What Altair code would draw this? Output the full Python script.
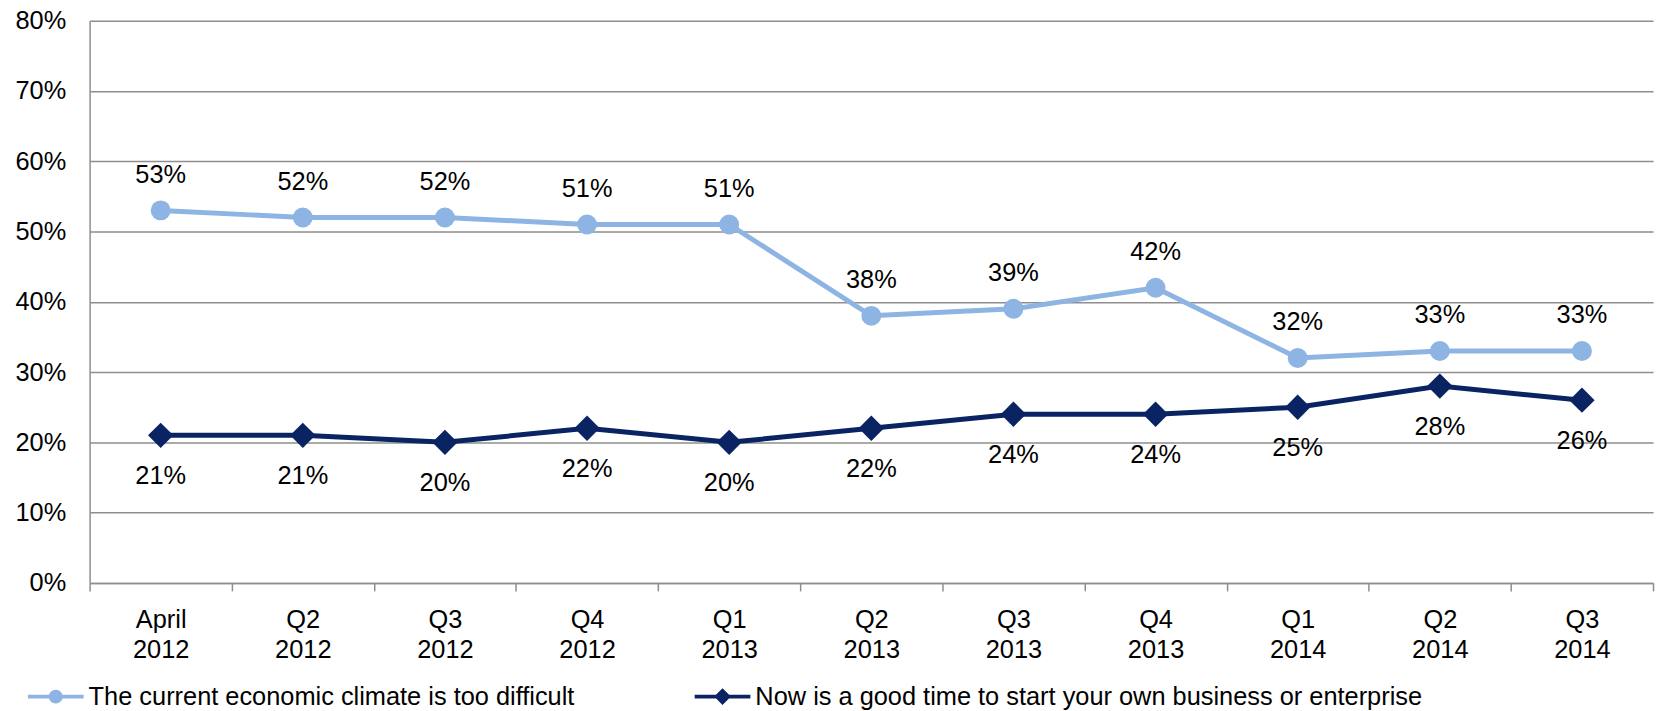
import altair as alt
import pandas as pd

periods = ["April 2012", "Q2 2012", "Q3 2012", "Q4 2012", "Q1 2013", "Q2 2013",
           "Q3 2013", "Q4 2013", "Q1 2014", "Q2 2014", "Q3 2014"]
series_names = ["The current economic climate is too difficult",
                "Now is a good time to start your own business or enterprise"]
difficult = [53, 52, 52, 51, 51, 38, 39, 42, 32, 33, 33]
good_time = [21, 21, 20, 22, 20, 22, 24, 24, 25, 28, 26]
colors = ["#8DB4E2", "#0A2463"]
y_ticks = [0, 0.1, 0.2, 0.3, 0.4, 0.5, 0.6, 0.7, 0.8]

rows = []
for p, a, b in zip(periods, difficult, good_time):
    rows.append({"period": p, "series": series_names[0], "value": a / 100})
    rows.append({"period": p, "series": series_names[1], "value": b / 100})
df = pd.DataFrame(rows)

FONT = "Liberation Sans"
FS = 25.5
GRID = "#8E8E8E"

x = alt.X("period:N", sort=periods, title=None,
          axis=alt.Axis(labelAngle=0, labelExpr="split(datum.label, ' ')",
                        labelLineHeight=30, labelFontSize=FS, labelFont=FONT,
                        labelColor="#000000", labelPadding=17,
                        tickBand="extent", tickSize=8, tickColor=GRID, tickWidth=1.5,
                        domainColor=GRID, domainWidth=1.5, grid=False))
y = alt.Y("value:Q", title=None,
          scale=alt.Scale(domain=[0, 0.8], nice=False),
          axis=alt.Axis(values=y_ticks, format=".0%", labelFontSize=FS, labelFont=FONT,
                        labelColor="#000000", ticks=False, tickSize=0, labelPadding=24,
                        domainColor=GRID, domainWidth=1.5,
                        grid=True, gridColor=GRID, gridWidth=1.5))

# legend symbols: a line segment with the series marker on it
circle_path = ("M-1,-0.07H1V0.07H-1Z"
               "M-0.25,0A0.25,0.25,0,1,1,0.25,0A0.25,0.25,0,1,1,-0.25,0Z")
diamond_path = "M-1,-0.07H1V0.07H-1ZM-0.3,0L0,-0.3L0.3,0L0,0.3Z"

legend = alt.Legend(title=None, orient="none", legendX=-62, legendY=651,
                    direction="horizontal", columns=2, columnPadding=120,
                    labelFontSize=FS, labelFont=FONT, labelColor="#000000",
                    labelLimit=1000, labelOffset=5, symbolSize=3136,
                    symbolStrokeWidth=0, symbolOpacity=1)

base = alt.Chart(df)
layers = []
shapes = ["circle", "diamond"]
sizes = [400, 650]
dys = [-36, 41]
for name, col, shp, sz, dy in zip(series_names, colors, shapes, sizes, dys):
    sub = base.transform_filter(alt.datum.series == name)
    layers.append(sub.mark_line(strokeWidth=5, color=col).encode(x=x, y=y))
    layers.append(sub.mark_point(filled=True, opacity=1, color=col, shape=shp, size=sz)
                  .encode(x=x, y=y))
    layers.append(sub.mark_text(dy=dy, fontSize=FS, font=FONT, color="#000000")
                  .encode(x=x, y=y, text=alt.Text("value:Q", format=".0%")))

legend_layer = base.transform_filter("false").mark_point(filled=True, opacity=1).encode(
    x=x, y=y,
    color=alt.Color("series:N", scale=alt.Scale(domain=series_names, range=colors),
                    legend=legend),
    shape=alt.Shape("series:N", scale=alt.Scale(domain=series_names,
                                                range=[circle_path, diamond_path]),
                    legend=legend),
)
layers.append(legend_layer)

chart = alt.layer(*layers).properties(
    width=1571, height=565,
    autosize=alt.AutoSizeParams(type="none"),
    padding={"left": 82, "top": 11, "right": 4, "bottom": 127},
).configure_view(stroke=None)

chart.save("out.html", embed_options={"renderer": "svg", "actions": False})
